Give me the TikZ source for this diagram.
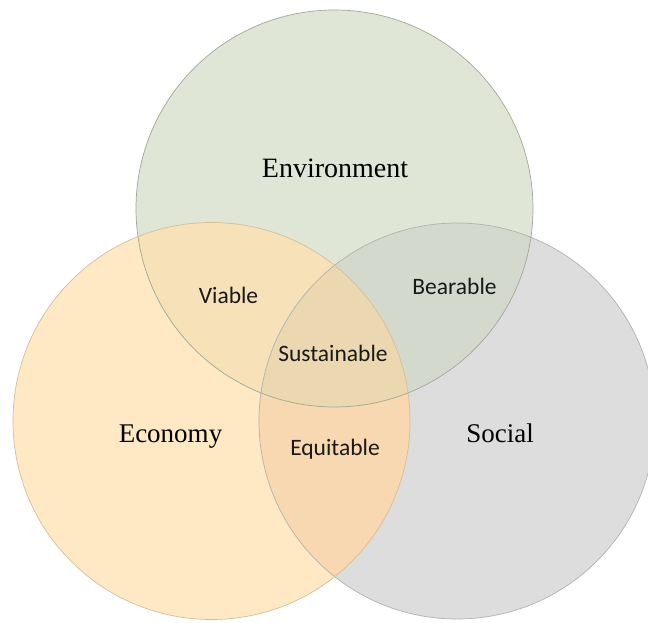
\documentclass[tikz,border=0pt]{standalone}
\usepackage{fontspec}
\setmainfont{Liberation Serif}
\newfontfamily\lblfont{Carlito}
\definecolor{envfill}{RGB}{224,230,213}
\definecolor{ecofill}{RGB}{255,232,196}
\definecolor{socfill}{RGB}{221,221,221}
\definecolor{viafill}{RGB}{246,225,184}
\definecolor{bearfill}{RGB}{212,217,205}
\definecolor{susfill}{RGB}{235,216,176}
\definecolor{equfill}{RGB}{248,216,176}
\definecolor{envline}{RGB}{160,168,150}
\definecolor{ecoline}{RGB}{215,190,150}
\definecolor{socline}{RGB}{178,178,178}
\tikzset{
  bigtext/.style={anchor=base, text=black, font=\fontsize{28}{30}\selectfont, inner sep=0pt},
  midtext/.style={anchor=base, text=black, font=\fontsize{27}{29}\selectfont, inner sep=0pt},
  smalltext/.style={anchor=base, text=black!90, font=\lblfont\fontsize{23.5}{25}\selectfont, inner sep=0pt},
  ring/.style={line width=0.7pt}
}
\begin{document}
\begin{tikzpicture}[x=1pt,y=1pt]
\useasboundingbox (0,0) rectangle (648,623);
\clip (0,0) rectangle (648,623);
\fill[white] (0,0) rectangle (648,623);
\coordinate (cE) at (334.5,414.5);
\coordinate (cO) at (211.5,202);
\coordinate (cS) at (457,202);
% base circles
\fill[envfill] (cE) circle (198.5);
\fill[socfill] (cS) circle (198);
\fill[ecofill] (cO) circle (198.5);
% pairwise overlaps
\begin{scope}
  \clip (cE) circle (198.5);
  \fill[viafill] (cO) circle (198.5);
  \fill[bearfill] (cS) circle (198);
\end{scope}
\begin{scope}
  \clip (cO) circle (198.5);
  \fill[equfill] (cS) circle (198);
\end{scope}
\begin{scope}
  \clip (cE) circle (198.5);
  \clip (cO) circle (198.5);
  \fill[susfill] (cS) circle (198);
\end{scope}
% outlines
\draw[ring, socline] (cS) circle (198);
\draw[ring, ecoline] (cO) circle (198.5);
\draw[ring, envline] (cE) circle (198.5);
% labels
\node[bigtext] (env) at (335,445) {Environment};
\node[midtext] (eco) at (170.5,180) {Economy};
\node[midtext] (soc) at (500,180) {Social};
\node[smalltext] (via) at (228.5,319.5) {Viable};
\node[smalltext] (bear) at (454.5,328.5) {Bearable};
\node[smalltext] (sus) at (333,261) {Sustainable};
\node[smalltext] (equ) at (335,167.5) {Equitable};
\end{tikzpicture}
\end{document}
